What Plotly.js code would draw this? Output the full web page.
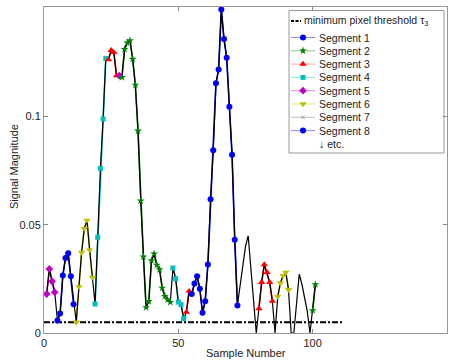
<!DOCTYPE html>
<html>
<head>
<meta charset="utf-8">
<script src="https://cdn.plot.ly/plotly-3.0.1.min.js"></script>
<style>html,body{margin:0;padding:0;background:#fff;}#chart{width:455px;height:364px;}</style>
</head>
<body>
<div id="chart"></div>
<script>
// ---- data ----
const signal = [
  0.0180, 0.0296, 0.0239, 0.0188, 0.0058, 0.0090, 0.0265, 0.0346, 0.0368, 0.0262,
  0.0133, 0.0050, 0.0213, 0.0372, 0.0482, 0.0520, 0.0383, 0.0257, 0.0134, 0.0442,
  0.0760, 0.0988, 0.1268, 0.1262, 0.1305, 0.1295, 0.1188, 0.1188, 0.1180, 0.1310,
  0.1340, 0.1350, 0.1265, 0.1145, 0.0933, 0.0610, 0.0352, 0.0118, 0.0146, 0.0335,
  0.0366, 0.0314, 0.0293, 0.0208, 0.0170, 0.0154, 0.0142, 0.0300, 0.0251, 0.0143,
  0.0131, 0.0067, 0.0096, 0.0193, 0.0180, 0.0228, 0.0262, 0.0204, 0.0093, 0.0147,
  0.0316, 0.0618, 0.0844, 0.1153, 0.1217, 0.1494, 0.1357, 0.1271, 0.1045, 0.0823,
  0.0431, 0.0127, 0.0220, 0.0323, 0.0400, 0.0449, 0.0290, 0.0145, 0.0000, 0.0113,
  0.0234, 0.0316, 0.0280, 0.0234, 0.0147, 0.0000, 0.0168, 0.0231, 0.0265, 0.0280,
  0.0200, 0.0000, 0.0000, 0.0130, 0.0272, 0.0225, 0.0160, 0.0100, 0.0000, 0.0104,
  0.0224
];
const sampleNumber = signal.map((v, i) => i + 1);

// groups of consecutive samples marked with a segment style
const groupSegment = [5, 1, 6, 4, 3, 5, 2, 4, 3, 8, 3, 6, 2];
const groupFirst   = [1, 5, 12, 19, 24, 28, 29, 48, 53, 55, 80, 87, 100];
const groupLast    = [4, 11, 18, 23, 27, 28, 47, 52, 54, 72, 85, 91, 101];

const thresholdValue = 0.005;
const thresholdX = [0, 111];
const thresholdLabel = 'minimum pixel threshold τ<sub>3</sub>';

const segmentNames = ['Segment 1','Segment 2','Segment 3','Segment 4','Segment 5','Segment 6','Segment 7','Segment 8'];
const etcLabel = '↓ etc.';

const xTicks = [0, 50, 100, 150];
const yTicks = [0, 0.05, 0.1];
const yTickText = ['0', '0.05', '0.1'];
const xTitle = 'Sample Number';
const yTitle = 'Signal Magnitude';

// ---- styles ----
const FONT = 'Liberation Sans, Arial, sans-serif';
const segStyle = [
  {color:'#0000ff', symbol:'circle', size:6, pale:'rgba(0,0,255,0.45)'},
  {color:'#008000', symbol:'star', size:6, pale:'rgba(0,128,0,0.45)'},
  {color:'#ff0000', symbol:'triangle-up', size:6.5, pale:'rgba(255,0,0,0.35)'},
  {color:'#00bfbf', symbol:'square', size:5, pale:'rgba(0,191,191,0.45)'},
  {color:'#bf00bf', symbol:'diamond', size:6, pale:'rgba(191,0,191,0.45)'},
  {color:'#bfbf00', symbol:'triangle-down', size:6.5, pale:'rgba(191,191,0,0.45)'},
  {color:'#a0a0a0', symbol:'x-thin', size:3.5, pale:'rgba(128,128,128,0.5)'},
  {color:'#0000ff', symbol:'circle', size:6, pale:'rgba(0,0,255,0.45)'}
];

const traces = [];
// colored segment lines (under the black signal line)
groupSegment.forEach((s, g) => {
  const xs = sampleNumber.slice(groupFirst[g] - 1, groupLast[g]);
  const ys = signal.slice(groupFirst[g] - 1, groupLast[g]);
  traces.push({x: xs, y: ys, type:'scatter', mode:'lines', showlegend:false,
    line:{color: segStyle[s-1].color, width:1.6}, hoverinfo:'skip'});
});
// the signal line
traces.push({x: sampleNumber, y: signal, type:'scatter', mode:'lines', showlegend:false,
  line:{color:'#000000', width:1.2}});
// threshold line
traces.push({x: thresholdX, y: thresholdX.map(() => thresholdValue), type:'scatter', mode:'lines',
  showlegend:false, line:{color:'#000000', width:2, dash:'6px,2px,2px,2px'}});
// segment markers
groupSegment.forEach((s, g) => {
  const st = segStyle[s-1];
  const xs = sampleNumber.slice(groupFirst[g] - 1, groupLast[g]);
  const ys = signal.slice(groupFirst[g] - 1, groupLast[g]);
  traces.push({x: xs, y: ys, type:'scatter', mode:'markers', showlegend:false, cliponaxis:false,
    marker:{color: st.color, symbol: st.symbol, size: st.size, line:{color: st.color, width:0}}});
});

// ---- hand-built legend (pixel coords inside plot area) ----
const L = {left:245, right:400, top:3.5, bottom:146, lineX0:247, lineX1:271, markX:259, textX:273,
  thrLineX1:257, thrTextX:257.5, thrY:14, rowY0:30.5, rowStep:13.3};
traces.push({x:[L.lineX0, L.thrLineX1], y:[L.thrY, L.thrY], xaxis:'x2', yaxis:'y2', type:'scatter',
  mode:'lines', showlegend:false, line:{color:'#000', width:2, dash:'3px,1.5px'}, hoverinfo:'skip'});
segmentNames.forEach((n, i) => {
  const y = L.rowY0 + i * L.rowStep;
  const st = segStyle[i];
  traces.push({x:[L.lineX0, L.lineX1], y:[y, y], xaxis:'x2', yaxis:'y2', type:'scatter', mode:'lines',
    showlegend:false, line:{color: st.pale, width:1}, hoverinfo:'skip'});
  traces.push({x:[L.markX], y:[y], xaxis:'x2', yaxis:'y2', type:'scatter', mode:'markers',
    showlegend:false, marker:{color: st.color, symbol: st.symbol, size: st.size,
      line:{color: st.color, width: st.symbol === 'x-thin' ? 1 : 0}}, hoverinfo:'skip'});
});
const annotations = [];
annotations.push({xref:'x2', yref:'y2', x:L.thrTextX, y:L.thrY, text:thresholdLabel, showarrow:false,
  xanchor:'left', yanchor:'middle', font:{family:FONT, size:10.5, color:'#222'}});
segmentNames.forEach((n, i) => {
  annotations.push({xref:'x2', yref:'y2', x:L.textX, y:L.rowY0 + i * L.rowStep, text:n, showarrow:false,
    xanchor:'left', yanchor:'middle', font:{family:FONT, size:10.5, color:'#222'}});
});
annotations.push({xref:'x2', yref:'y2', x:L.textX, y:L.rowY0 + 8 * L.rowStep, text:etcLabel, showarrow:false,
  xanchor:'left', yanchor:'middle', font:{family:FONT, size:10.5, color:'#222'}});
// axis titles
annotations.push({xref:'paper', yref:'paper', x:0.5, y:-0.061, text:xTitle, showarrow:false,
  xanchor:'center', yanchor:'middle', font:{family:FONT, size:11, color:'#222'}});
annotations.push({xref:'paper', yref:'paper', x:-0.076, y:0.51, text:yTitle, showarrow:false, textangle:-90,
  xanchor:'center', yanchor:'middle', font:{family:FONT, size:11, color:'#222'}});

const layout = {
  width:455, height:364,
  margin:{l:44, r:8, t:7, b:31},
  paper_bgcolor:'#fff', plot_bgcolor:'#fff',
  font:{family:FONT, size:11, color:'#222'},
  showlegend:false,
  xaxis:{range:[0,150], tickvals:xTicks, ticks:'inside', ticklen:4, tickcolor:'#888',
    mirror:'ticks', showline:true, linecolor:'#999', linewidth:1, showgrid:false, zeroline:false,
    tickfont:{size:11}},
  yaxis:{range:[0,0.1505], tickvals:yTicks, ticktext:yTickText, ticks:'inside', ticklen:4, tickcolor:'#888',
    mirror:'ticks', showline:true, linecolor:'#999', linewidth:1, showgrid:false, zeroline:false,
    tickfont:{size:11}},
  xaxis2:{overlaying:'x', range:[0,403], visible:false, fixedrange:true, anchor:'y2'},
  yaxis2:{overlaying:'y', range:[326,0], visible:false, fixedrange:true, anchor:'x2'},
  shapes:[{type:'rect', xref:'x2', yref:'y2', x0:L.left, x1:L.right, y0:L.top, y1:L.bottom,
    line:{color:'#999', width:1}, fillcolor:'#fff', layer:'below'}],
  annotations: annotations
};

Plotly.newPlot('chart', traces, layout, {displayModeBar:false, staticPlot:true});
</script>
</body>
</html>
